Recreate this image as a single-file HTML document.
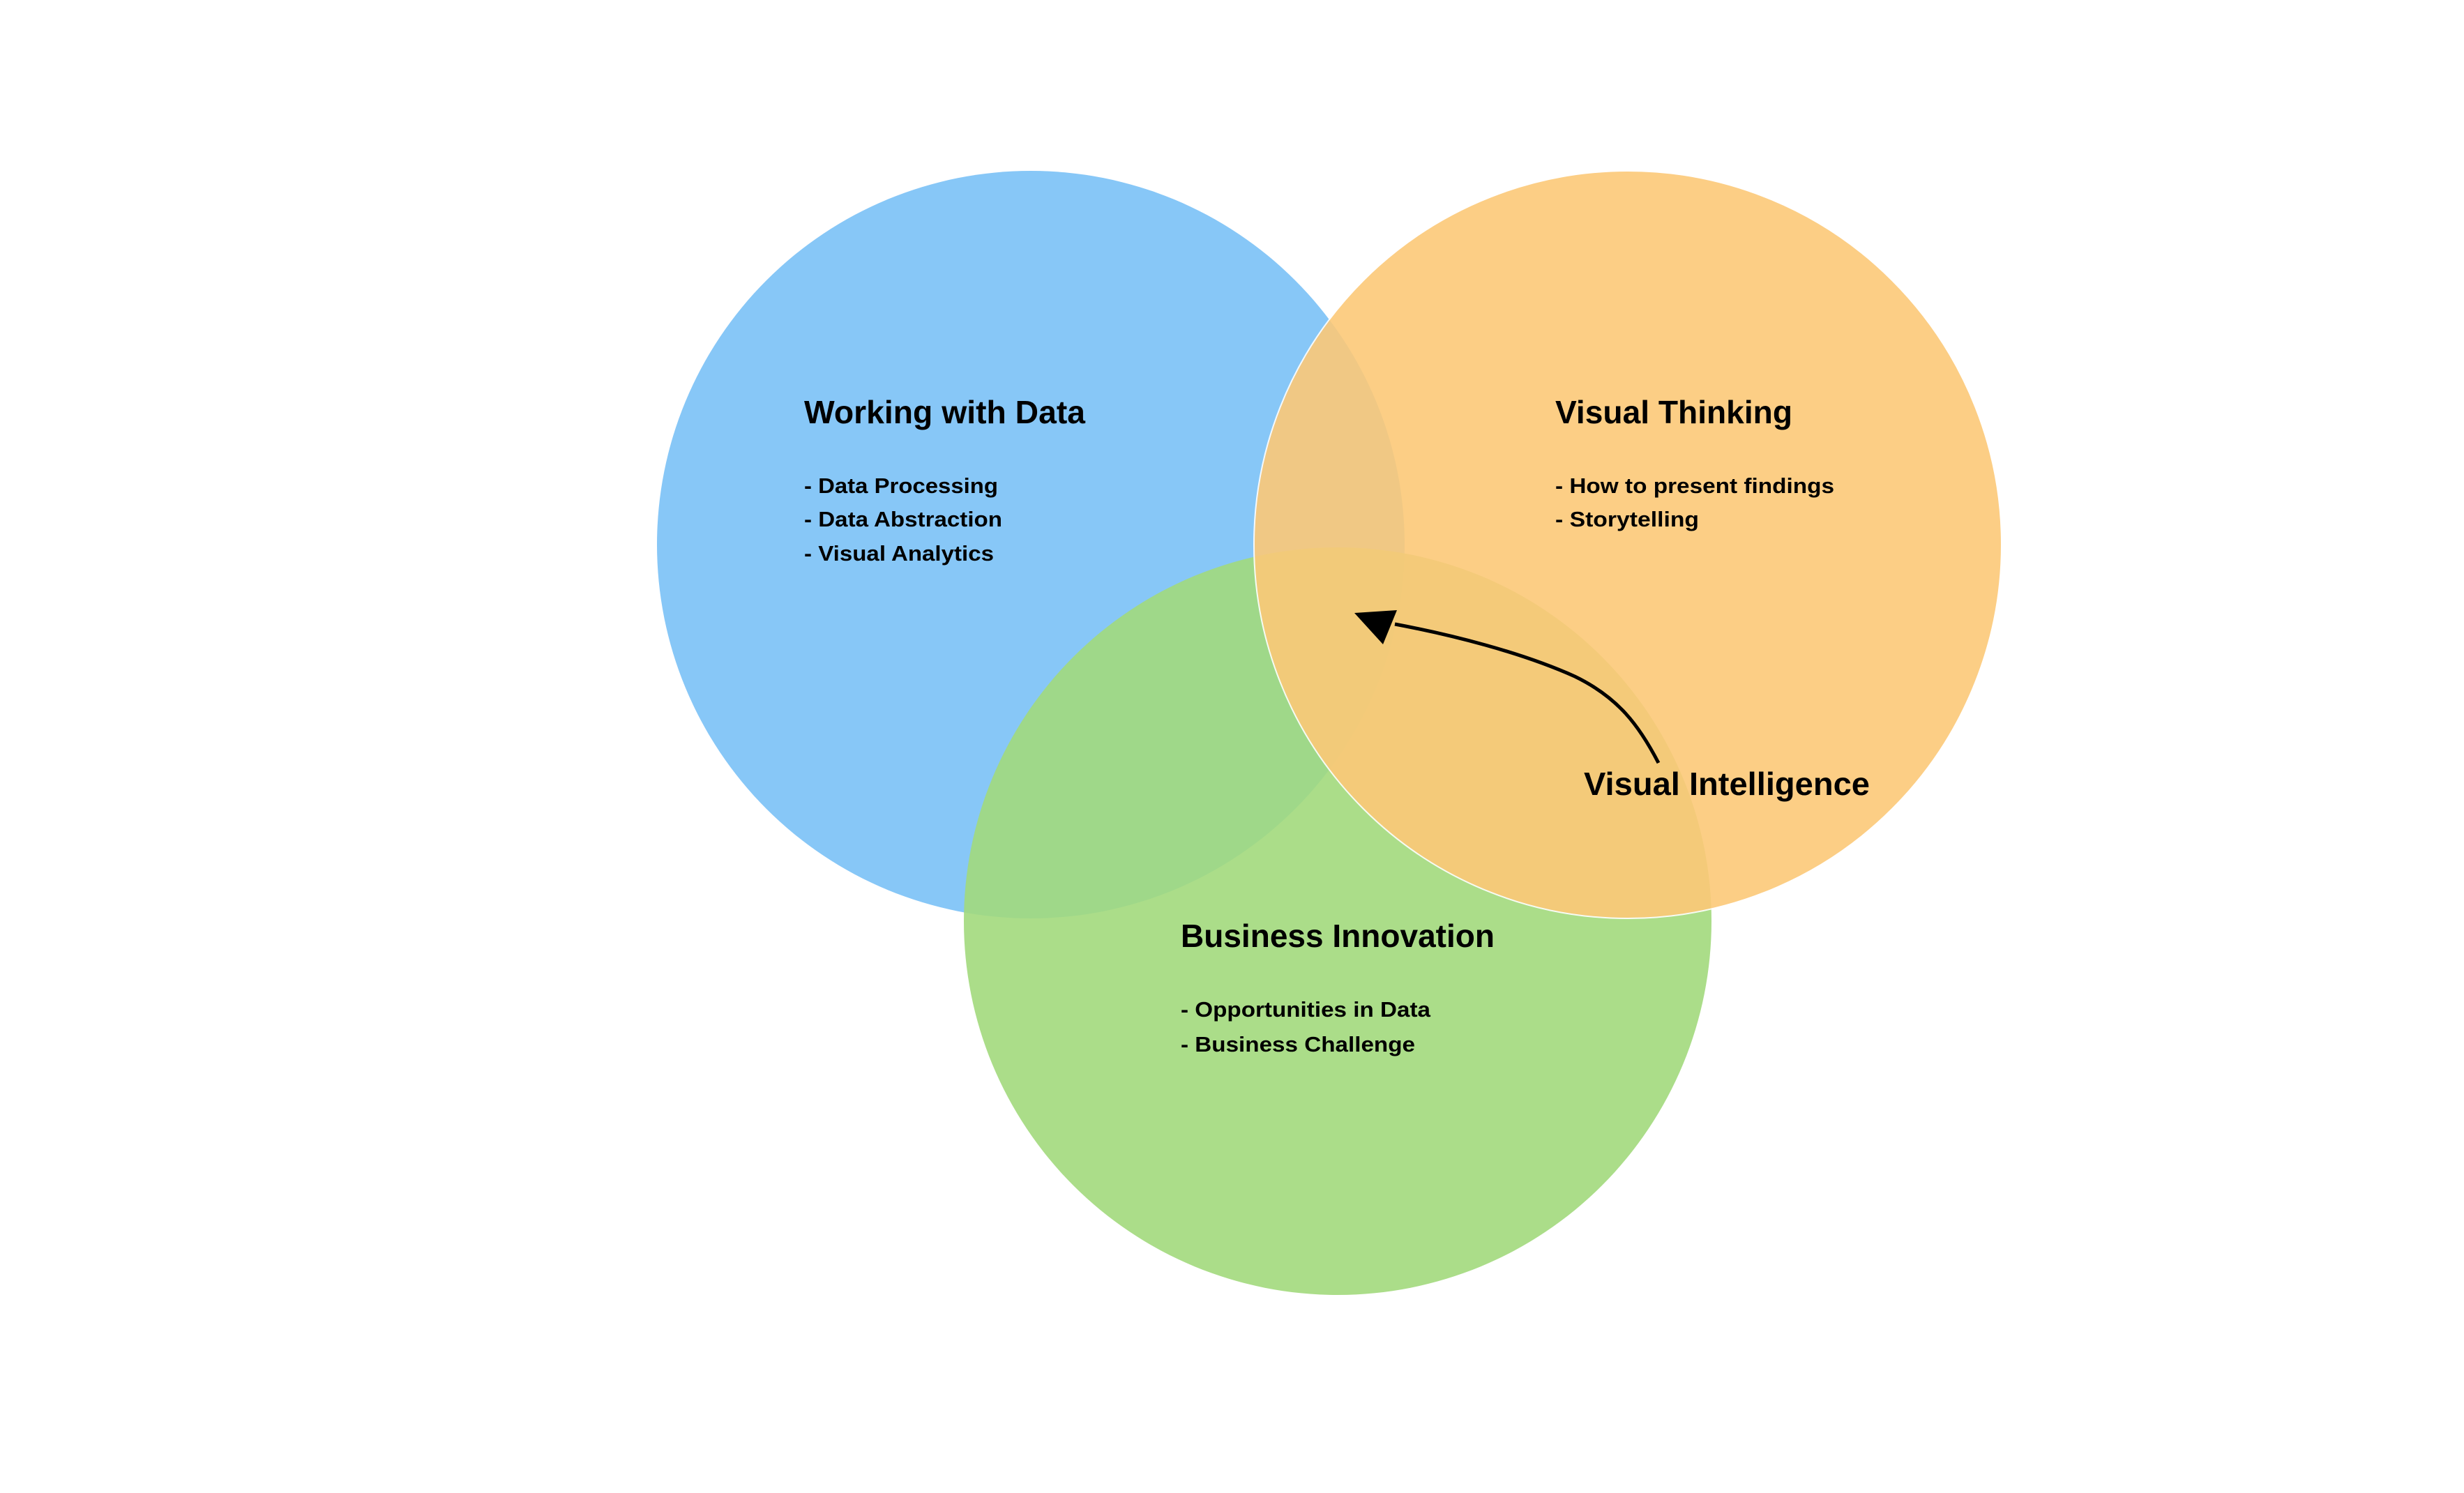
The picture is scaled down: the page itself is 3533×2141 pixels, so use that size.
<!DOCTYPE html>
<html><head><meta charset="utf-8"><style>html,body{margin:0;padding:0;background:#fff}svg{display:block}</style></head>
<body>
<svg width="3533" height="2141" viewBox="0 0 3533 2141" xmlns="http://www.w3.org/2000/svg" font-family="'Liberation Sans', 'DejaVu Sans', sans-serif" font-weight="bold">
<circle cx="1478" cy="781" r="536" fill="#87C7F7"/>
<circle cx="1918" cy="1321" r="536" fill="#A2D97C" opacity="0.9"/>
<circle cx="2334" cy="781" r="536" fill="#FCC978" opacity="0.9" stroke="#fff" stroke-width="2"/>
<g fill="#000">
<text x="1153" y="607" font-size="46" textLength="403" lengthAdjust="spacingAndGlyphs">Working with Data</text>
<text x="1153" y="707" font-size="31" textLength="278" lengthAdjust="spacingAndGlyphs">- Data Processing</text>
<text x="1153" y="755" font-size="31" textLength="284" lengthAdjust="spacingAndGlyphs">- Data Abstraction</text>
<text x="1153" y="804" font-size="31" textLength="272" lengthAdjust="spacingAndGlyphs">- Visual Analytics</text>
<text x="2230" y="607" font-size="46" textLength="340" lengthAdjust="spacingAndGlyphs">Visual Thinking</text>
<text x="2230" y="707" font-size="31" textLength="400" lengthAdjust="spacingAndGlyphs">- How to present findings</text>
<text x="2230" y="755" font-size="31" textLength="206" lengthAdjust="spacingAndGlyphs">- Storytelling</text>
<text x="1693" y="1358" font-size="46" textLength="450" lengthAdjust="spacingAndGlyphs">Business Innovation</text>
<text x="1693" y="1458" font-size="31" textLength="358" lengthAdjust="spacingAndGlyphs">- Opportunities in Data</text>
<text x="1693" y="1508" font-size="31" textLength="336" lengthAdjust="spacingAndGlyphs">- Business Challenge</text>
<text x="2271" y="1140" font-size="46" textLength="410" lengthAdjust="spacingAndGlyphs">Visual Intelligence</text>
</g>
<path d="M2378 1094 C2350 1040 2320 1000 2258 970 C2180 935 2080 910 2000 895" fill="none" stroke="#000" stroke-width="5"/>
<polygon points="1942,879 2003,875 1983,924" fill="#000"/>
</svg>
</body></html>
